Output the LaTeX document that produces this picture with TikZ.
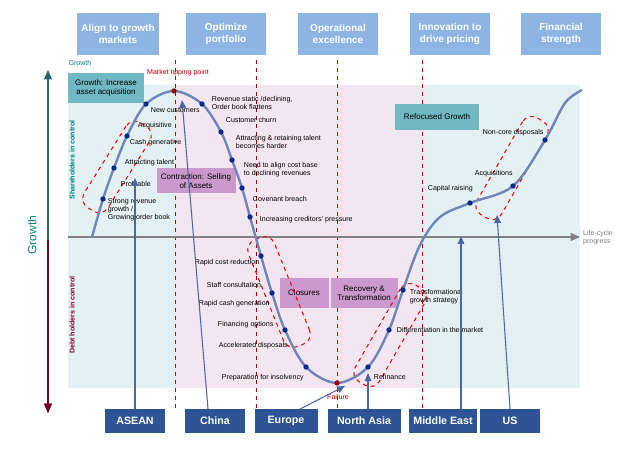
\documentclass[tikz,border=0pt]{standalone}
\usepackage{fontspec}
\setmainfont{Liberation Sans}
\usetikzlibrary{arrows.meta}
\begin{document}
\begin{tikzpicture}[x=0.75pt,y=-0.75pt,
 lbl/.style={font=\fontsize{5.3}{6}\selectfont,anchor=west,align=left,inner sep=0.5pt},
 hdr/.style={fill=hdrc,text=white,font=\fontsize{7.5}{8.5}\selectfont\bfseries,align=center,minimum width=80*0.75pt,minimum height=42*0.75pt},
 bot/.style={fill=botc,text=white,font=\fontsize{8}{9}\selectfont\bfseries,minimum height=24*0.75pt},
 tbox/.style={fill=tealc,font=\fontsize{6}{7}\selectfont,align=center},
 pbox/.style={fill=purc,font=\fontsize{6}{7}\selectfont,align=center},
 dot/.style={circle,fill=dotc,inner sep=0pt,minimum size=4pt},
 loop/.style={draw=red,dashed,thick,rounded corners=8pt,minimum height=28*0.75pt},
 vline/.style={draw=red!70!black,dashed},
 up/.style={draw=arrc,thick,-{Triangle[length=6pt,width=5pt]}}]
\definecolor{hdrc}{HTML}{8DB4E2}\definecolor{botc}{HTML}{2F5496}
\definecolor{tealc}{HTML}{70B8C2}\definecolor{purc}{HTML}{CC99CC}
\definecolor{dotc}{HTML}{002A8C}\definecolor{arrc}{HTML}{4A68A8}
\definecolor{cyanbg}{HTML}{E4F1F3}\definecolor{pinkbg}{HTML}{F4E6F0}
\useasboundingbox (0,0) rectangle (628,452);
\fill[white] (0,0) rectangle (628,452);
\fill[cyanbg] (68,85) rectangle (580,388);
\fill[pinkbg] (175,85) rectangle (422,388);
% headers
\node[hdr] (h1) at (118,34) {Align to growth\\markets};
\node[hdr] (h2) at (226,34) {Optimize\\portfolio};
\node[hdr] (h3) at (338,34) {Operational\\excellence};
\node[hdr] (h4) at (450,34) {Innovation to\\drive pricing};
\node[hdr] (h5) at (561,34) {Financial\\strength};
% dashed lines
\foreach \x in {175,256,337,422} \draw[vline] (\x,60) -- (\x,410);
% axes
\coordinate (ax0) at (68,237); \coordinate (ax1) at (580,237);
\draw[gray,thick,-{Triangle[length=7pt,width=6pt]}] (ax0) -- (ax1);
\node[font=\fontsize{5.3}{6}\selectfont,text=gray,align=left] (lcp) at (598,238) {Life-cycle\\progress};
\coordinate (v0) at (48,70); \coordinate (v1) at (48,413);
\draw[draw=teal!80!purple,thick,{Triangle[length=7pt,width=6pt]}-{Triangle[length=7pt,width=6pt]}] (v0) -- (v1);
\draw[purple!60!black,thick,-{Triangle[length=7pt,width=6pt]}] (48,240) -- (v1);
\node[rotate=90,text=teal,font=\fontsize{9}{10}\selectfont] (gr) at (32,235) {Growth};
\node[text=teal,font=\fontsize{5.3}{6}\selectfont] (gs) at (80,63) {Growth};
\node[rotate=90,text=teal,font=\fontsize{5.3}{6}\selectfont\bfseries] (sh) at (72,160) {Shareholders in control};
\node[rotate=90,text=purple!70!black,font=\fontsize{5.3}{6}\selectfont\bfseries] (dh) at (72,315) {Debt holders in control};
% boxes
\node[tbox,minimum width=76*0.75pt,minimum height=30*0.75pt] (b1) at (106,88) {Growth: Increase\\asset acquisition};
\node[pbox,minimum width=76*0.75pt,minimum height=25*0.75pt] (b2) at (196,181) {Contraction: Selling\\of Assets};
\node[pbox,minimum width=49*0.75pt,minimum height=29*0.75pt] (b3) at (304,293) {Closures};
\node[pbox,minimum width=67*0.75pt,minimum height=29*0.75pt] (b4) at (364,293) {Recovery \&\\Transformation};
\node[tbox,minimum width=84*0.75pt,minimum height=26*0.75pt] (b5) at (437,117) {Refocused Growth};
% loops
\node[loop,minimum width=100*0.75pt,rotate=58] (l1) at (117,167) {};
\node[loop,minimum width=115*0.75pt,rotate=-68] (l2) at (279,292) {};
\node[loop,minimum width=112*0.75pt,rotate=60] (l3) at (390,335) {};
\node[loop,minimum width=112*0.75pt,rotate=60] (l4) at (512,168) {};
% curve
\draw[draw=arrc!80,line width=1.8pt] plot[smooth,tension=0.55] coordinates {(92,237) (103,199) (114,168) (127,136) (146,104) (174,91) (202,104) (221,132) (232,160) (242,188) (250,217) (261,256) (272,293) (285,330) (306,367) (337,383) (368,367) (389,330) (403,290) (420,245) (440,217) (470,203) (513,186) (545,140) (565,103) (582,90)};
\foreach \p/\n in {{103,199}/d1,{114,168}/d2,{127,136}/d3,{146,104}/d4,{202,104}/d5,{221,132}/d6,{232,160}/d7,{242,188}/d8,{250,217}/d9,{261,256}/d10,{272,293}/d11,{285,330}/d12,{306,367}/d13,{368,367}/d14,{389,330}/d15,{403,290}/d16,{470,203}/d17,{513,186}/d18,{545,140}/d19}
  \node[dot] (\n) at (\p) {};
\node[dot,fill=red!60!black] (peak) at (174,91) {};
\node[dot,fill=red!60!black] (fail) at (337,383) {};
\node[text=red!70!black,font=\fontsize{5.3}{6}\selectfont] (mtp) at (178,73) {Market tipping point};
\node[text=red!70!black,font=\fontsize{5.3}{6}\selectfont] (fl) at (338,397) {Failure};
% labels
\node[lbl] at (150,110) {New customers};
\node[lbl] at (137,126) {Acquisitive};
\node[lbl] at (129,143) {Cash generative};
\node[lbl] at (124,163) {Attracting talent};
\node[lbl] at (120,184) {Profitable};
\node[lbl,anchor=north west] at (107,198) {Strong revenue\\growth /\\Growing order book};
\node[lbl] at (211,103) {Revenue static /declining,\\Order book flattens};
\node[lbl] at (225,120) {Customer churn};
\node[lbl] at (235,142) {Attracting \& retaining talent\\becomes harder};
\node[lbl] at (243,170) {Need to align cost base\\to declining revenues};
\node[lbl] at (252,199) {Covenant breach};
\node[lbl] at (259,220) {Increasing creditors' pressure};
\node[lbl] at (194,263) {Rapid cost reduction};
\node[lbl] at (206,285) {Staff consultation};
\node[lbl] at (198,304) {Rapid cash generation};
\node[lbl] at (217,325) {Financing options};
\node[lbl] at (218,346) {Accelerated disposals};
\node[lbl] at (221,378) {Preparation for insolvency};
\node[lbl] at (409,297) {Transformational\\growth strategy};
\node[lbl] at (396,330) {Differentiation in the market};
\node[lbl] at (373,377) {Refinance};
\node[lbl] at (427,189) {Capital raising};
\node[lbl] at (474,174) {Acquisitions};
\node[lbl] at (482,133) {Non-core disposals};
% bottom boxes
\node[bot,minimum width=60*0.75pt] (c1) at (135,421) {ASEAN};
\node[bot,minimum width=60*0.75pt] (c2) at (215,421) {China};
\node[bot,minimum width=63*0.75pt] (c3) at (286,421) {Europe};
\node[bot,minimum width=73*0.75pt] (c4) at (364,421) {North Asia};
\node[bot,minimum width=65*0.75pt] (c5) at (443,421) {Middle East};
\node[bot,minimum width=60*0.75pt] (c6) at (510,421) {US};
\coordinate (t1) at (135,178); \coordinate (t2) at (182,100);
\coordinate (t3) at (345,386); \coordinate (t4) at (368,373);
\coordinate (t5) at (461,236); \coordinate (t6) at (497,215);
\draw[up] (135,409) -- (t1);
\draw[up] (208,409) -- (t2);
\draw[up] (300,409) -- (t3);
\draw[up] (368,409) -- (t4);
\draw[up] (461,409) -- (t5);
\draw[up] (510,409) -- (t6);
\end{tikzpicture}
\end{document}
